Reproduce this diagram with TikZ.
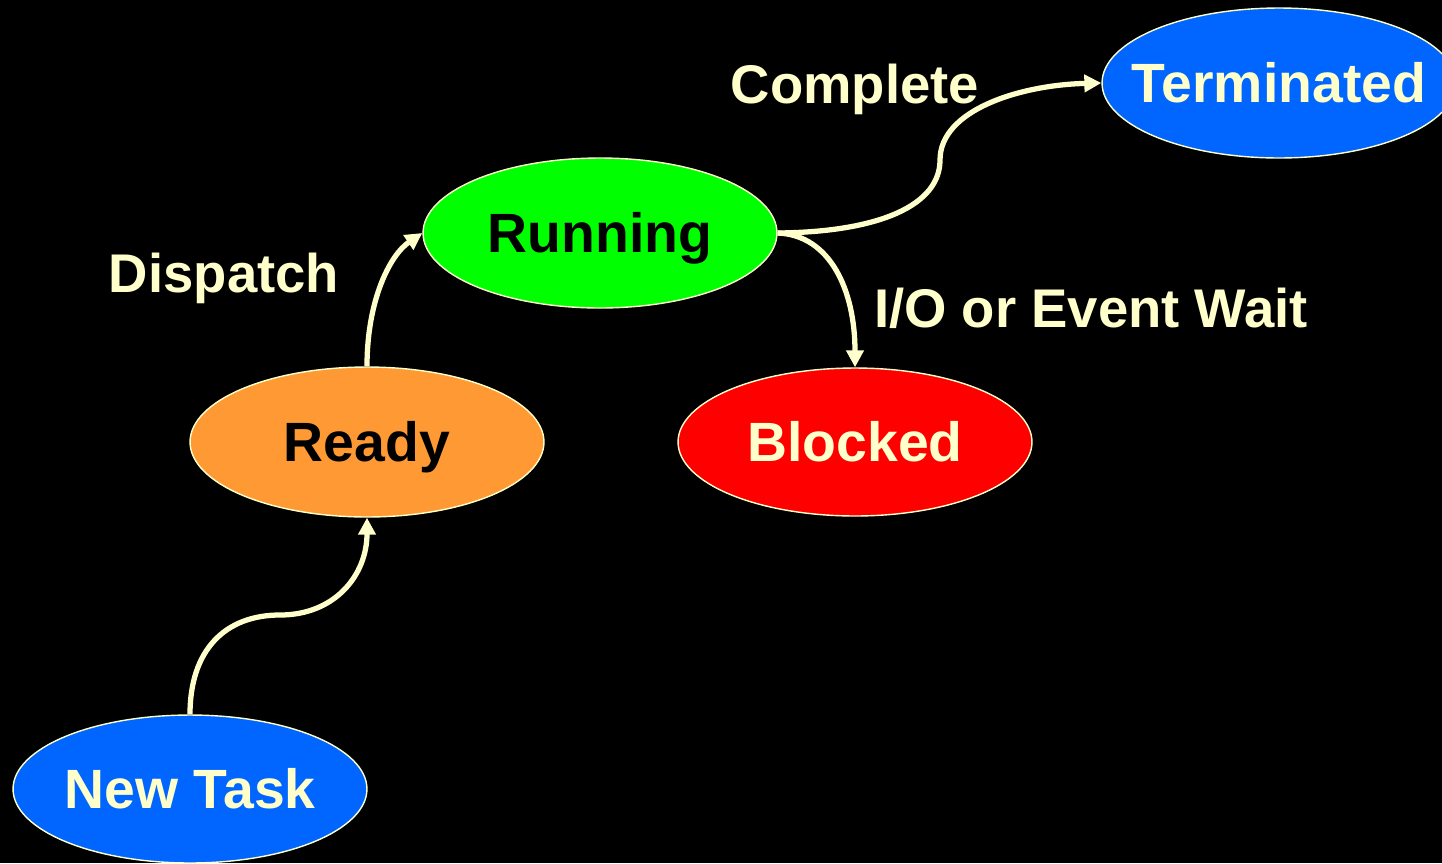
\documentclass[tikz,border=0pt]{standalone}
\usepackage{fontspec}
\setmainfont{Liberation Sans}
\usetikzlibrary{shapes.geometric,arrows.meta}
\definecolor{cream}{HTML}{FFFFCC}
\definecolor{tblue}{HTML}{0066FF}
\definecolor{torange}{HTML}{FF9933}
\definecolor{tgreen}{HTML}{00FF00}
\definecolor{tred}{HTML}{FF0000}
\newcommand{\zb}[1]{\makebox[0pt][c]{#1}}
\tikzset{
  state/.style={ellipse, draw=cream, line width=0.8pt, minimum width=7.08cm, minimum height=3cm, inner sep=0pt, text height=22.5pt, text depth=0pt, font=\fontsize{31.5}{38}\selectfont\bfseries},
  conn/.style={draw=cream, line width=3pt, -{Triangle[length=0.34cm,width=0.34cm]}},
  lbl/.style={text=cream, anchor=base, inner sep=0pt, font=\fontsize{31}{37}\selectfont\bfseries}
}
\begin{document}
\begin{tikzpicture}[x=0.02cm,y=-0.02cm]
\fill[black] (0,0) rectangle (1442,863);
\useasboundingbox (0,0) rectangle (1442,863);
\node[state, fill=tblue, text=cream, minimum height=2.96cm] (nt) at (190,789) {\zb{New Task}};
\node[state, fill=torange, text=black] (rd) at (367,442) {\zb{Ready}};
\node[state, fill=tgreen, text=black] (run) at (600,233) {\zb{Running}};
\node[state, fill=tred, text=cream, minimum height=2.96cm] (blk) at (855,442) {\zb{Blocked}};
\node[state, fill=tblue, text=cream] (term) at (1279,83) {\zb{Terminated}};
\node[lbl] (lc) at (855,103) {Complete};
\node[lbl] (ld) at (224,292) {Dispatch};
\node[lbl] (lio) at (1091,327) {I/O or Event Wait};
\draw[conn] (nt.north) .. controls (190,650) and (225,615) .. (280,615) .. controls (335,615) and (367,575) .. (rd.south);
\draw[conn] (rd.north) .. controls (367,300) and (390,255) .. (run.west);
\draw[conn] (run.east) .. controls (880,232) and (940,205) .. (940,160) .. controls (940,110) and (1020,85) .. (term.west);
\draw[conn] (run.east) .. controls (830,235) and (855,290) .. (blk.north);
\end{tikzpicture}
\end{document}
